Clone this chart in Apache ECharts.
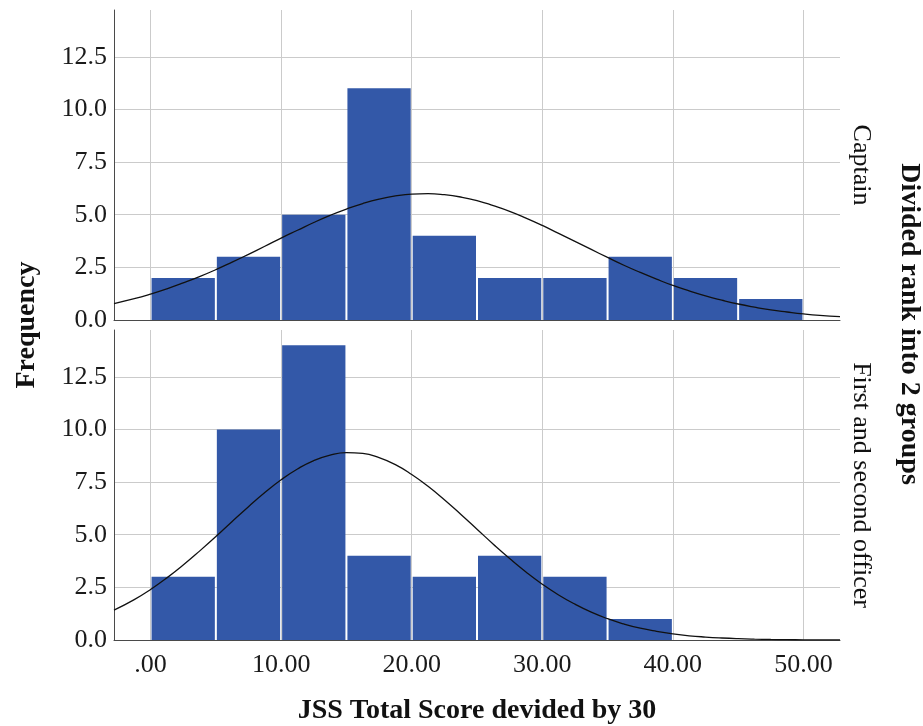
<!DOCTYPE html>
<html>
<head>
<meta charset="utf-8">
<script src="https://cdn.jsdelivr.net/npm/echarts@6/dist/echarts.min.js"></script>
<style>
  html, body { margin: 0; padding: 0; background: #ffffff; }
  #chart { width: 923px; height: 726px; }
</style>
</head>
<body>
<div id="chart"></div>
<script>
// Histogram bins (lower edges) and bin width
const binStarts = [0, 5, 10, 15, 20, 25, 30, 35, 40, 45];
const binWidth = 5;

// Frequencies per bin for each rank group
const captainCounts = [2, 3, 5, 11, 4, 2, 2, 3, 2, 1];
const officerCounts = [3, 10, 14, 4, 3, 4, 3, 1, 0, 0];

// Fitted normal curves, sampled along the score axis
const curveX = [-2.8, -1.25, 0, 1.25, 2.5, 3.75, 5, 6.25, 7.5, 8.75, 10, 11.25, 12.5, 13.75, 15, 16.25, 17.5, 18.75,
  20, 21.25, 22.5, 23.75, 25, 26.25, 27.5, 28.75, 30, 31.25, 32.5, 33.75, 35, 36.25, 37.5, 38.75,
  40, 41.25, 42.5, 43.75, 45, 46.25, 47.5, 48.75, 50, 51.25, 52.8];
const captainCurve = [0.78, 1.01, 1.23, 1.48, 1.76, 2.06, 2.39, 2.75, 3.12, 3.50, 3.89, 4.26, 4.63, 4.97, 5.27, 5.53, 5.74, 5.89,
  5.98, 6.00, 5.95, 5.84, 5.67, 5.43, 5.16, 4.84, 4.49, 4.11, 3.73, 3.35, 2.97, 2.60, 2.26, 1.94,
  1.64, 1.38, 1.14, 0.94, 0.76, 0.61, 0.48, 0.38, 0.29, 0.22, 0.16];
const officerCurve = [1.42, 1.92, 2.40, 2.95, 3.56, 4.22, 4.91, 5.63, 6.33, 7.00, 7.61, 8.12, 8.52, 8.78, 8.90, 8.86, 8.66, 8.33,
  7.86, 7.30, 6.66, 5.97, 5.26, 4.55, 3.87, 3.23, 2.65, 2.14, 1.70, 1.32, 1.01, 0.76, 0.56, 0.41,
  0.29, 0.20, 0.14, 0.096, 0.064, 0.042, 0.027, 0.017, 0.010, 0.006, 0.003];

// Axis ticks
const xTicks = [0, 10, 20, 30, 40, 50];
const yTicks = [0, 2.5, 5, 7.5, 10, 12.5];

// Text
const groupNames = ['Captain', 'First and second officer'];
const xTitle = 'JSS Total Score devided by 30';
const yTitle = 'Frequency';
const groupTitle = 'Divided rank into 2 groups';

const X_MIN = -2.8, X_MAX = 52.8, Y_MAX = 14.72;
const FONT = '"Liberation Serif", "Times New Roman", serif';
const BAR = '#3358a8';
const GRID_LINE = '#cbcbcb';
const AXIS_LINE = '#4a4a4a';

const panels = [
  { top: 10, counts: captainCounts, curve: captainCurve },
  { top: 330, counts: officerCounts, curve: officerCurve }
];
const PLOT_LEFT = 114, PLOT_RIGHT_GAP = 83, PLOT_H = 310;

function histItem(params, api) {
  const n = api.value(2);
  if (!n) return null;
  const p0 = api.coord([api.value(0), n]);
  const p1 = api.coord([api.value(1), 0]);
  return {
    type: 'rect',
    shape: { x: p0[0] + 1, y: p0[1], width: p1[0] - p0[0] - 2, height: p1[1] - p0[1] },
    style: { fill: BAR }
  };
}

const grid = [], xAxis = [], yAxis = [], series = [];
panels.forEach((p, i) => {
  grid.push({ left: PLOT_LEFT, right: PLOT_RIGHT_GAP, top: p.top, height: PLOT_H });
  xAxis.push({
    type: 'value', gridIndex: i, min: X_MIN, max: X_MAX,
    axisLine: { show: true, onZero: false, lineStyle: { color: AXIS_LINE, width: 1 } },
    axisTick: { show: false, customValues: xTicks },
    axisLabel: {
      show: i === 1, customValues: xTicks, margin: 12,
      fontFamily: FONT, fontSize: 26, color: '#1a1a1a',
      formatter: v => (v === 0 ? '.00' : v.toFixed(2))
    },
    splitLine: { show: true, lineStyle: { color: GRID_LINE, width: 1 } }
  });
  yAxis.push({
    type: 'value', gridIndex: i, min: 0, max: Y_MAX,
    axisLine: { show: true, onZero: false, lineStyle: { color: AXIS_LINE, width: 1 } },
    axisTick: { show: false, customValues: yTicks },
    axisLabel: {
      customValues: yTicks, margin: 7,
      fontFamily: FONT, fontSize: 26, color: '#1a1a1a',
      formatter: v => v.toFixed(1)
    },
    splitLine: { show: true, lineStyle: { color: GRID_LINE, width: 1 } }
  });
  series.push({
    type: 'custom', xAxisIndex: i, yAxisIndex: i,
    renderItem: histItem,
    encode: { x: [0, 1], y: 2 },
    data: binStarts.map((s, k) => [s, s + binWidth, p.counts[k]]),
    z: 2
  });
  series.push({
    type: 'line', xAxisIndex: i, yAxisIndex: i,
    data: curveX.map((x, k) => [x, p.curve[k]]),
    smooth: 0.5, showSymbol: false, symbol: 'none',
    lineStyle: { color: '#111111', width: 1.3 },
    clip: true, z: 3
  });
});

const chart = echarts.init(document.getElementById('chart'), null, { renderer: 'canvas' });
chart.setOption({
  animation: false,
  backgroundColor: '#ffffff',
  grid, xAxis, yAxis, series,
  graphic: [
    { type: 'text', x: 27, y: 325, rotation: Math.PI / 2,
      style: { text: yTitle, font: 'bold 28px ' + FONT, fill: '#111', align: 'center', verticalAlign: 'middle' } },
    { type: 'text', x: 477, y: 711,
      style: { text: xTitle, font: 'bold 28px ' + FONT, fill: '#111', align: 'center', verticalAlign: 'middle' } },
    { type: 'text', x: 861, y: 165, rotation: -Math.PI / 2,
      style: { text: groupNames[0], font: '26px ' + FONT, fill: '#111', align: 'center', verticalAlign: 'middle' } },
    { type: 'text', x: 861, y: 485, rotation: -Math.PI / 2,
      style: { text: groupNames[1], font: '26px ' + FONT, fill: '#111', align: 'center', verticalAlign: 'middle' } },
    { type: 'text', x: 909, y: 324, rotation: -Math.PI / 2,
      style: { text: groupTitle, font: 'bold 28px ' + FONT, fill: '#111', align: 'center', verticalAlign: 'middle' } }
  ]
});
</script>
</body>
</html>
